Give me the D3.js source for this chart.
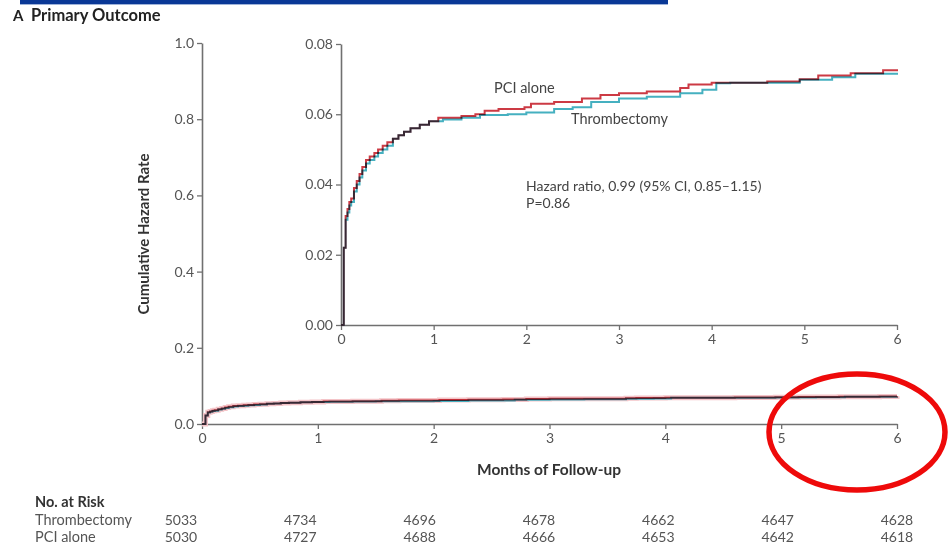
<!DOCTYPE html>
<html><head><meta charset="utf-8">
<script src="https://cdn.jsdelivr.net/npm/d3@7"></script>
<style>
body{margin:0;background:#fff;}
svg text{font-family:Lato,"Open Sans",sans-serif;}
</style></head>
<body><svg id="c" width="951" height="553"></svg>
<script>
// ---- data ----
const monthTicks = [0,1,2,3,4,5,6];
const mainYTicks = [0,0.2,0.4,0.6,0.8,1.0];
const insetYTicks = [0,0.02,0.04,0.06,0.08];
const pciMonths = [0,0.03,0.05,0.07,0.09,0.11,0.14,0.17,0.2,0.23,0.27,0.31,0.36,0.4,0.45,0.5,0.56,0.62,0.68,0.75,0.85,0.95,1.05,1.3,1.45,1.55,1.7,1.98,2.05,2.3,2.6,2.8,3.0,3.3,3.66,3.75,4.0,4.6,4.95,5.15,5.5,5.85,6];
const pciRate   = [0,0.022,0.031,0.033,0.035,0.036,0.039,0.041,0.043,0.045,0.047,0.048,0.049,0.050,0.051,0.052,0.053,0.054,0.055,0.056,0.057,0.058,0.059,0.0595,0.060,0.061,0.0615,0.062,0.063,0.0635,0.0645,0.0655,0.066,0.0665,0.0675,0.0685,0.069,0.0693,0.070,0.071,0.0717,0.0725,0.0728];
const thrombMonths = [0,0.03,0.05,0.07,0.09,0.11,0.14,0.17,0.2,0.23,0.27,0.31,0.36,0.4,0.45,0.5,0.56,0.62,0.68,0.75,0.85,0.95,1.1,1.3,1.5,1.8,2.0,2.3,2.5,2.7,3.0,3.3,3.66,3.9,4.05,4.2,4.95,5.3,5.55,6];
const thrombRate   = [0,0.022,0.030,0.032,0.034,0.035,0.038,0.040,0.042,0.044,0.046,0.047,0.048,0.049,0.050,0.051,0.053,0.054,0.055,0.056,0.057,0.058,0.0585,0.059,0.0598,0.060,0.0605,0.0615,0.062,0.0635,0.0645,0.065,0.066,0.067,0.0688,0.069,0.0698,0.0705,0.0715,0.0718];
const riskGroups = ["Thrombectomy","PCI alone"];
const riskThromb = [5033,4734,4696,4678,4662,4647,4628];
const riskPci    = [5030,4727,4688,4666,4653,4642,4618];

const svg = d3.select("#c");
const axisColor = "#707070", textColor = "#555";
const redC = "#cc3a44", tealC = "#45b0c0";

// header
svg.append("rect").attr("x",20).attr("y",0).attr("width",648).attr("height",4).attr("fill","#0a3896");
svg.append("rect").attr("x",20).attr("y",4).attr("width",648).attr("height",1).attr("fill","#9fb3d9");
svg.append("text").attr("x",13).attr("y",21).attr("font-size",15).attr("font-weight","bold").attr("fill","#222").text("A");
svg.append("text").attr("x",31).attr("y",21).attr("font-size",16.5).attr("font-weight","bold").attr("fill","#222").text("Primary Outcome");

function drawAxes(g, x, y, yTicks, yFmt){
  const ax = g.append("g").attr("transform",`translate(0,${y.range()[0]})`)
    .call(d3.axisBottom(x).tickValues(monthTicks).tickFormat(d3.format("d")).tickSize(5).tickSizeOuter(0).tickPadding(4));
  const ay = g.append("g").attr("transform",`translate(${x.range()[0]},0)`)
    .call(d3.axisLeft(y).tickValues(yTicks).tickFormat(yFmt).tickSize(5).tickSizeOuter(0).tickPadding(3));
  [ax,ay].forEach(a=>{
    a.select(".domain").attr("stroke",axisColor).attr("stroke-width",1.6);
    a.selectAll(".tick line").attr("stroke",axisColor).attr("stroke-width",1.3);
    a.selectAll(".tick text").attr("fill",textColor).attr("font-size",14).attr("font-family","Lato, sans-serif");
  });
}
function drawCurves(g, x, y, w, halo){
  const line = d3.line().x(d=>x(d[0])).y(d=>y(d[1])).curve(d3.curveStepAfter);
  const th = thrombMonths.map((m,i)=>[m,thrombRate[i]]);
  const pc = pciMonths.map((m,i)=>[m,pciRate[i]]);
  if (halo) g.append("path").datum(pc).attr("d",line).attr("fill","none").attr("stroke","#f4c4c8").attr("stroke-width",w+3);
  g.append("path").datum(th).attr("d",line).attr("fill","none").attr("stroke",tealC).attr("stroke-width",w);
  g.append("path").datum(pc).attr("d",line).attr("fill","none").attr("stroke",redC).attr("stroke-width",w)
    .style("mix-blend-mode","multiply");
}

// main chart
const xM = d3.scaleLinear().domain([0,6]).range([202,897]);
const yM = d3.scaleLinear().domain([0,1]).range([424,43]);
const gM = svg.append("g");
drawAxes(gM, xM, yM, mainYTicks, d3.format(".1f"));
drawCurves(gM, xM, yM, 2, true);

svg.append("text").attr("transform","translate(149,234) rotate(-90)").attr("text-anchor","middle")
  .attr("font-size",15).attr("font-weight","bold").attr("fill","#333").text("Cumulative Hazard Rate");
svg.append("text").attr("x",549).attr("y",475).attr("text-anchor","middle")
  .attr("font-size",15.5).attr("font-weight","bold").attr("fill","#333").text("Months of Follow-up");

// inset
const xI = d3.scaleLinear().domain([0,6]).range([341,897]);
const yI = d3.scaleLinear().domain([0,0.08]).range([325,44]);
const gI = svg.append("g");
drawAxes(gI, xI, yI, insetYTicks, d3.format(".2f"));
drawCurves(gI, xI, yI, 2, false);

svg.append("text").attr("x",494).attr("y",93).attr("font-size",14.5).attr("fill","#444").text("PCI alone");
svg.append("text").attr("x",571).attr("y",124).attr("font-size",14.5).attr("fill","#444").text("Thrombectomy");
svg.append("text").attr("x",526).attr("y",191).attr("font-size",14).attr("fill","#444").text("Hazard ratio, 0.99 (95% CI, 0.85\u20131.15)");
svg.append("text").attr("x",526).attr("y",208).attr("font-size",14).attr("fill","#444").text("P=0.86");

// risk table
const xR = d3.scaleLinear().domain([0,6]).range([181,897]);
svg.append("text").attr("x",35).attr("y",507).attr("font-size",14.5).attr("font-weight","bold").attr("fill","#333").text("No. at Risk");
[riskThromb, riskPci].forEach((row,ri)=>{
  const yy = 525 + ri*17;
  svg.append("text").attr("x",35).attr("y",yy).attr("font-size",14.5).attr("fill",textColor).text(riskGroups[ri]);
  svg.selectAll(null).data(row).enter().append("text")
    .attr("x",(d,i)=>xR(monthTicks[i])).attr("y",yy).attr("text-anchor","middle")
    .attr("font-size",14).attr("fill",textColor).text(d=>d);
});

// red annotation ellipse
svg.append("ellipse").attr("cx",857).attr("cy",432).attr("rx",88).attr("ry",58)
  .attr("fill","none").attr("stroke","#ee0a0a").attr("stroke-width",5.5);
</script></body></html>
